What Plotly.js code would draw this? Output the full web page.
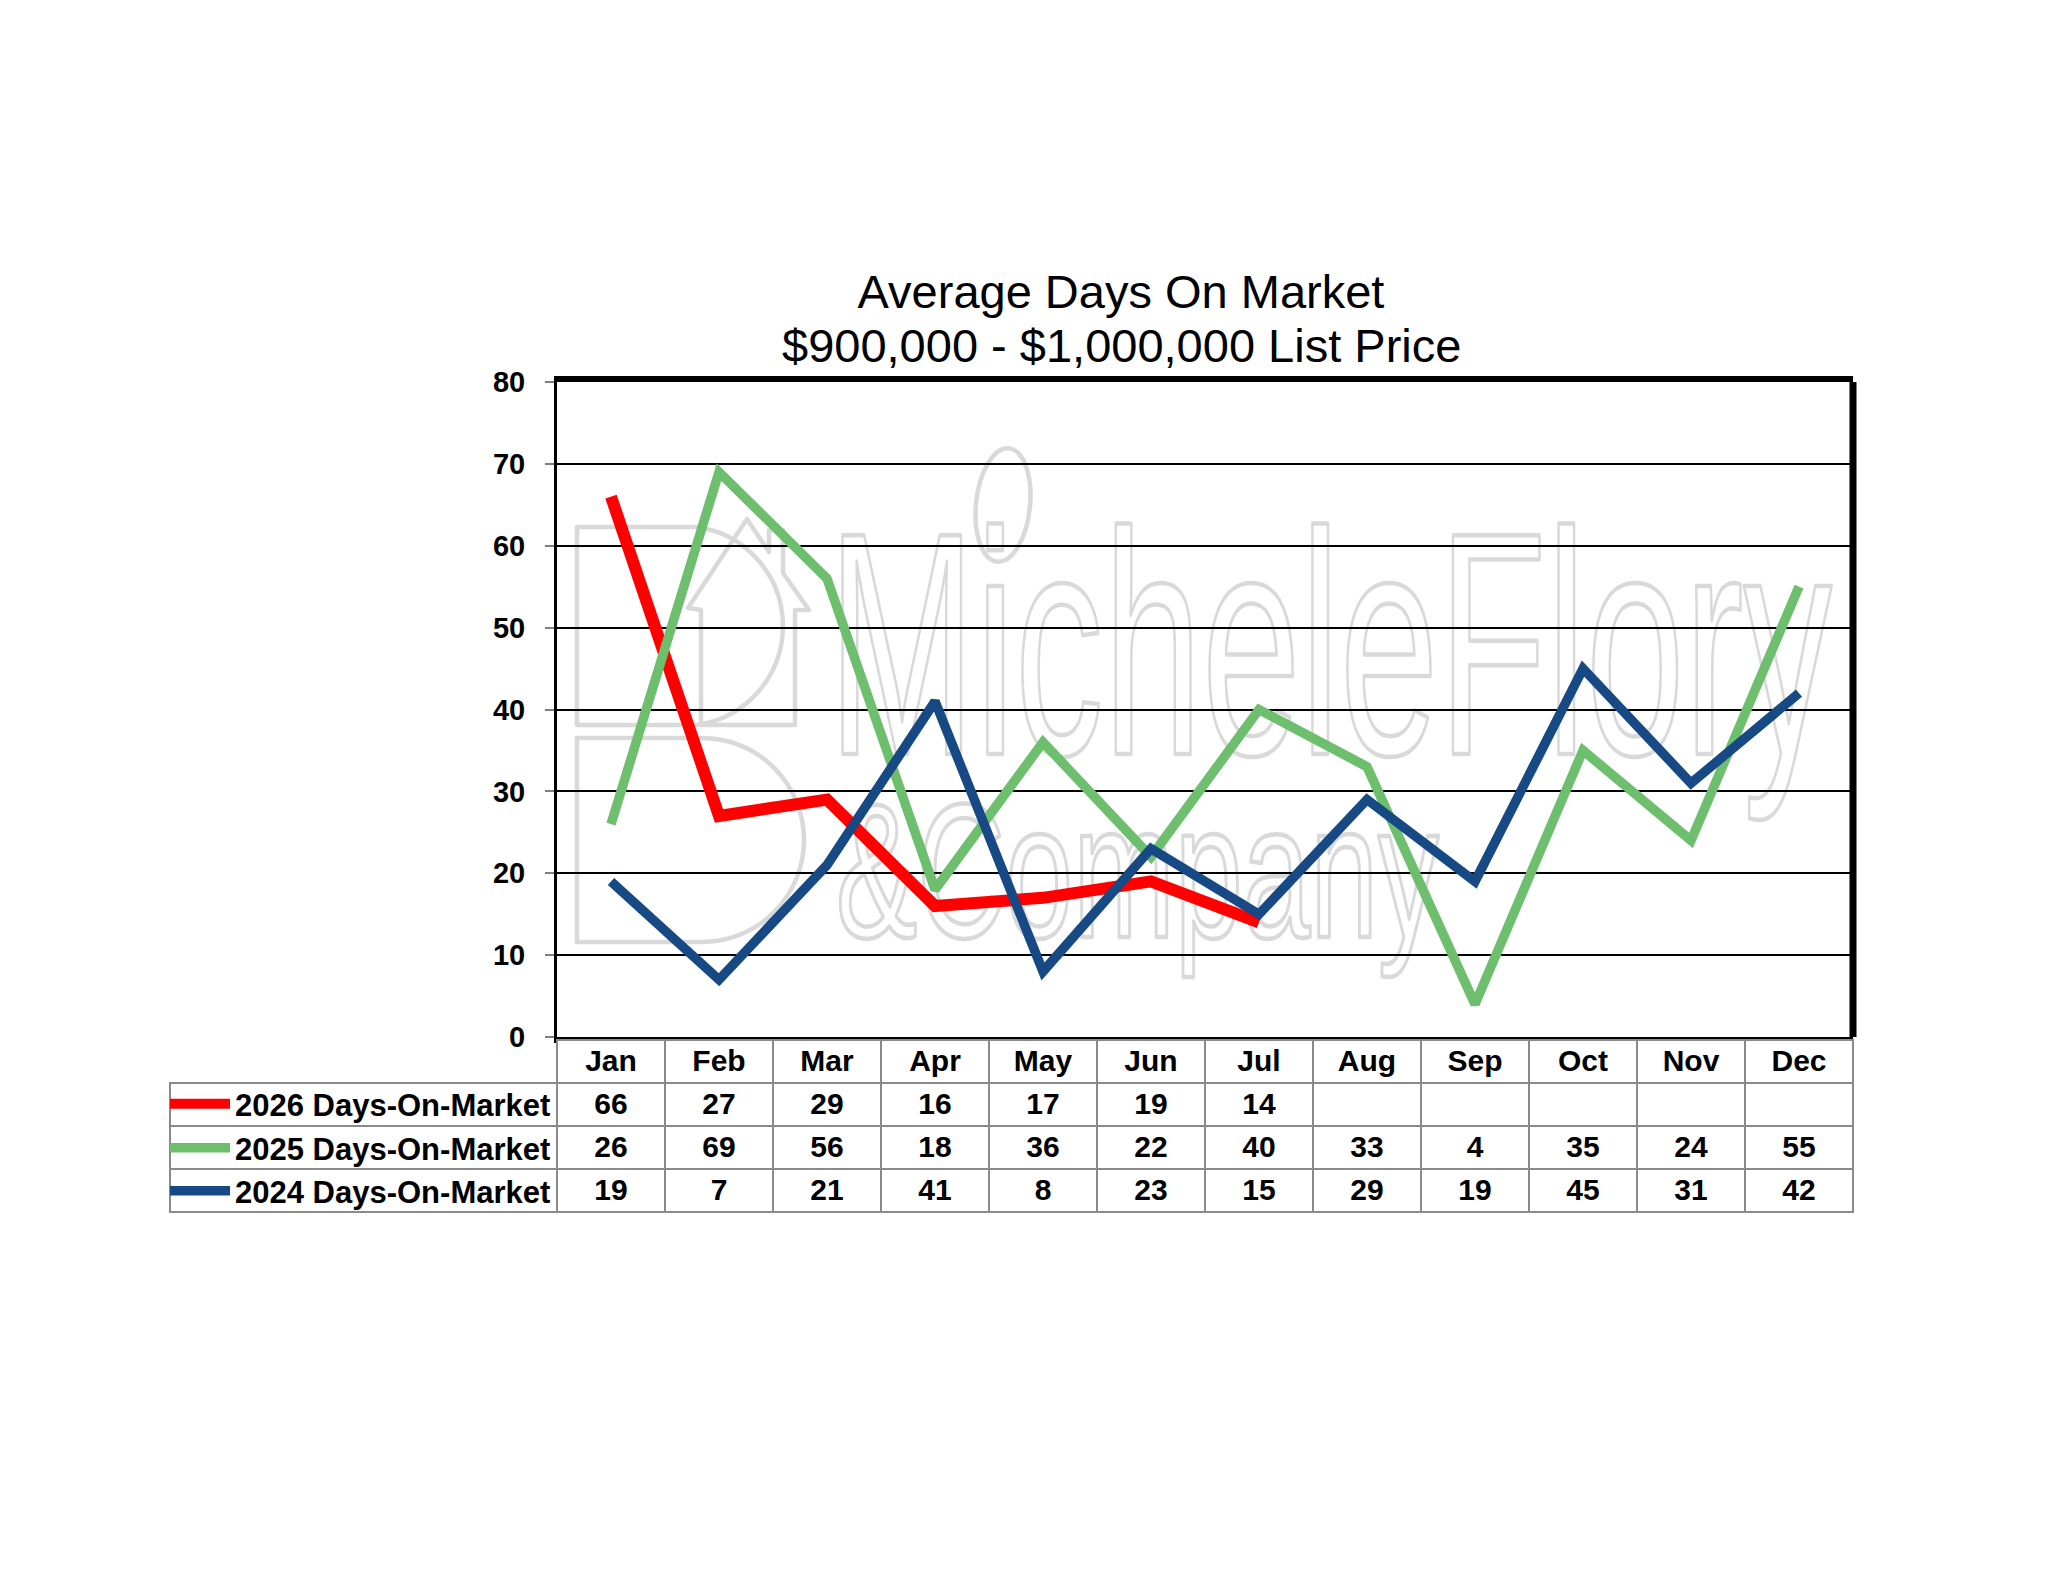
<!DOCTYPE html>
<html>
<head>
<meta charset="utf-8">
<script src="https://cdn.plot.ly/plotly-3.0.1.min.js"></script>
<style>
  html, body { margin: 0; padding: 0; background: #fff; }
</style>
</head>
<body>
<div id="chart" style="width:2048px;height:1583px;"></div>
<script>
// values
var months = ['Jan', 'Feb', 'Mar', 'Apr', 'May', 'Jun', 'Jul', 'Aug', 'Sep', 'Oct', 'Nov', 'Dec'];
var dom2026 = [66, 27, 29, 16, 17, 19, 14, null, null, null, null, null];
var dom2025 = [26, 69, 56, 18, 36, 22, 40, 33, 4, 35, 24, 55];
var dom2024 = [19, 7, 21, 41, 8, 23, 15, 29, 19, 45, 31, 42];
var seriesNames = ['2026 Days-On-Market', '2025 Days-On-Market', '2024 Days-On-Market'];
var seriesColors = ['#FF0000', '#6DBE6D', '#174A84'];
var seriesWidths = [12, 9.5, 9.5];
var yTicks = [0, 10, 20, 30, 40, 50, 60, 70, 80];

var W = 2048, H = 1583;
var FONT = '"Liberation Sans", Arial, sans-serif';

// faint outlined watermark drawn behind the plot
var wm = '<svg xmlns="http://www.w3.org/2000/svg" width="2048" height="1583" viewBox="0 0 2048 1583">' +
  '<g fill="none" stroke="#d9d9d9" stroke-width="4.5" stroke-linejoin="round" font-family="Liberation Sans, Arial, sans-serif">' +
  '<path d="M577,527 h120 a100,100 0 0 1 0,198 h-120 z"/>' +
  '<path d="M577,738 h125 a102,102 0 0 1 0,204 h-125 z"/>' +
  '<path d="M688,608 l59,-89 l22,33 v-22 h14 v43 l26,37 h-14 v115 h-94 v-115 z"/>' +
  '<ellipse cx="1003" cy="505" rx="27" ry="57" transform="rotate(6 1003 505)"/>' +
  '<text x="828" y="754" font-size="318" textLength="1004" lengthAdjust="spacingAndGlyphs">MicheleFlory</text>' +
  '<text x="836" y="937" font-size="192" textLength="603" lengthAdjust="spacingAndGlyphs">&amp;Company</text>' +
  '</g></svg>';

var allSeries = [dom2026, dom2025, dom2024];
var legendIds = ['legend', 'legend2', 'legend3'];

var traces = allSeries.map(function (vals, i) {
  return {
    x: months,
    y: vals,
    type: 'scatter',
    mode: 'lines',
    name: seriesNames[i],
    legend: legendIds[i],
    showlegend: true,
    line: { color: seriesColors[i], width: seriesWidths[i] },
    hoverinfo: 'x+y+name'
  };
});

// data table under the plot
var cellCols = [['', '', '']];
months.forEach(function (m, j) {
  cellCols.push(allSeries.map(function (s) { return s[j] == null ? '' : String(s[j]); }));
});
var GRID = '#8a8a8a';
var headerLineColors = ['rgba(0,0,0,0)'].concat(months.map(function () { return GRID; }));
var headerFills = ['rgba(0,0,0,0)'].concat(months.map(function () { return 'white'; }));

traces.push({
  type: 'table',
  domain: { x: [170 / W, 1853 / W], y: [1 - 1216 / H, 1 - 1040 / H] },
  columnwidth: [387].concat(months.map(function () { return 108; })),
  header: {
    values: [''].concat(months),
    height: 43,
    align: 'center',
    fill: { color: headerFills },
    line: { color: headerLineColors, width: 2 },
    font: { family: FONT, size: 30, color: '#000', weight: 'bold' }
  },
  cells: {
    values: cellCols,
    height: 43,
    align: 'center',
    fill: { color: 'white' },
    line: { color: GRID, width: 2 },
    font: { family: FONT, size: 30, color: '#000', weight: 'bold' }
  }
});

var rowCenters = [1104, 1148, 1191];
function legendAt(k) {
  return {
    x: 165 / W, xanchor: 'left',
    y: 1 - rowCenters[k] / H, yanchor: 'middle',
    bgcolor: 'rgba(0,0,0,0)',
    borderwidth: 0,
    itemwidth: 60,
    font: { family: FONT, size: 31, color: '#000', weight: 'bold' }
  };
}

var layout = {
  width: W,
  height: H,
  margin: { l: 0, r: 0, t: 0, b: 0 },
  paper_bgcolor: 'white',
  plot_bgcolor: 'rgba(0,0,0,0)',
  showlegend: true,
  title: {
    text: 'Average Days On Market',
    font: { family: FONT, size: 47, color: '#000' },
    x: 1121 / W, xanchor: 'center', xref: 'paper',
    y: 1 - 292 / H, yanchor: 'middle', yref: 'paper'
  },
  annotations: [{
    text: '$900,000 - $1,000,000 List Price',
    xref: 'paper', yref: 'paper',
    x: 1121 / W, xanchor: 'center',
    y: 1 - 345 / H, yanchor: 'middle',
    showarrow: false,
    font: { family: FONT, size: 47, color: '#000' }
  }],
  xaxis: {
    domain: [557 / W, 1853 / W],
    type: 'category',
    categoryarray: months,
    range: [-0.5, 11.5],
    showticklabels: false,
    ticks: '',
    showgrid: false,
    zeroline: false,
    showline: true,
    linecolor: '#000',
    linewidth: 6,
    mirror: true
  },
  yaxis: {
    domain: [1 - 1037 / H, 1 - 382 / H],
    range: [0, 80],
    tickvals: yTicks,
    ticks: 'outside',
    ticklen: 9,
    tickwidth: 2,
    tickcolor: '#808080',
    ticklabelstandoff: 14,
    tickfont: { family: FONT, size: 29, color: '#000', weight: 'bold' },
    showgrid: true,
    gridcolor: '#000',
    gridwidth: 2,
    zeroline: false,
    showline: true,
    linecolor: '#000',
    linewidth: 3
  },
  shapes: [{
    // heavy right edge of the plot frame
    type: 'line', xref: 'x domain', yref: 'y domain',
    x0: 1, x1: 1, y0: 0, y1: 1,
    line: { color: '#000', width: 7 }
  }],
  legend: legendAt(0),
  legend2: legendAt(1),
  legend3: legendAt(2),
  images: [{
    source: 'data:image/svg+xml;charset=utf-8,' + encodeURIComponent(wm),
    xref: 'paper', yref: 'paper',
    x: 0, y: 1, sizex: 1, sizey: 1,
    xanchor: 'left', yanchor: 'top',
    sizing: 'stretch',
    layer: 'below'
  }]
};

Plotly.newPlot('chart', traces, layout, { displayModeBar: false, staticPlot: true });
</script>
</body>
</html>
